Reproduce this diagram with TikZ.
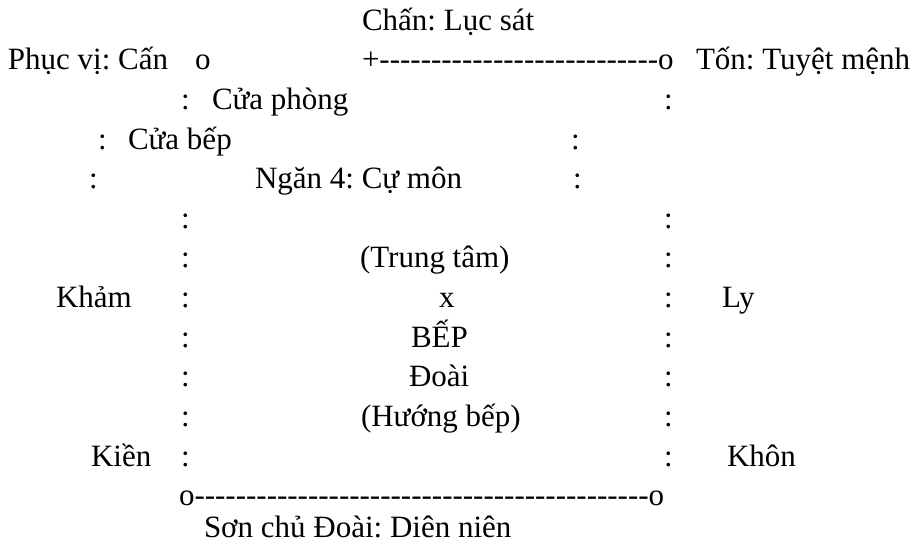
\documentclass[tikz,border=0pt]{standalone}
\usepackage{fontspec}
\setmainfont{Liberation Serif}[Ligatures=TeXOff]
\usepackage{tikz}
\newcommand{\txtsize}{31}
\tikzset{
  txt/.style={anchor=base west, inner sep=0pt, outer sep=0pt, font=\fontsize{\txtsize}{37}\selectfont\frenchspacing},
}

\begin{document}
\begin{tikzpicture}[x=1pt,y=1pt]
\useasboundingbox (0,0) rectangle (918,-545);
%row 1
\node[txt] (chan) at (362, -30.5) {Chấn: Lục sát};
%row 2
\node[txt] (phucvi) at (8, -70) {Phục vị: Cấn};
\node[txt] (ocan) at (195, -70) {o};
\node[txt] (topline) at (362, -70) {+---------------------------o};
\node[txt] (ton) at (696, -70) {Tốn: Tuyệt mệnh};
%row 3
\node[txt] (c3l) at (181, -109.7) {:};
\node[txt] (cuaphong) at (212, -109.7) {Cửa phòng};
\node[txt] (c3r) at (664, -109.7) {:};
%row 4
\node[txt] (c4l) at (98, -149.3) {:};
\node[txt] (cuabep) at (128, -149.3) {Cửa bếp};
\node[txt] (c4r) at (571, -149.3) {:};
%row 5
\node[txt] (c5l) at (89, -188.9) {:};
\node[txt] (ngan) at (255, -188.9) {Ngăn 4: Cự môn};
\node[txt] (c5r) at (573, -188.9) {:};
%row 6
\node[txt] (c6l) at (181, -228.5) {:};
\node[txt] (c6r) at (664, -228.5) {:};
%row 7
\node[txt] (c7l) at (181, -268) {:};
\node[txt] (trungtam) at (360, -268) {(Trung tâm)};
\node[txt] (c7r) at (664, -268) {:};
%row 8
\node[txt] (kham) at (56, -307.7) {Khảm};
\node[txt] (c8l) at (181, -307.7) {:};
\node[txt] (tam) at (439, -307.7) {x};
\node[txt] (c8r) at (664, -307.7) {:};
\node[txt] (ly) at (722, -307.7) {Ly};
%row 9
\node[txt] (c9l) at (181, -347.3) {:};
\node[txt] (bep) at (411, -347.3) {BẾP};
\node[txt] (c9r) at (664, -347.3) {:};
%row 10
\node[txt] (c10l) at (181, -386.9) {:};
\node[txt] (doai) at (409, -386.9) {Đoài};
\node[txt] (c10r) at (664, -386.9) {:};
%row 11
\node[txt] (c11l) at (181, -426.5) {:};
\node[txt] (huong) at (361, -426.5) {(Hướng bếp)};
\node[txt] (c11r) at (664, -426.5) {:};
%row 12
\node[txt] (kien) at (91, -466) {Kiền};
\node[txt] (c12l) at (181, -466) {:};
\node[txt] (c12r) at (664, -466) {:};
\node[txt] (khon) at (727, -466) {Khôn};
%row 13
\node[txt] (botline) at (179, -505.7) {o--------------------------------------------o};
%row 14
\node[txt] (sonchu) at (204, -537) {Sơn chủ Đoài: Diên niên};
\end{tikzpicture}
\end{document}
